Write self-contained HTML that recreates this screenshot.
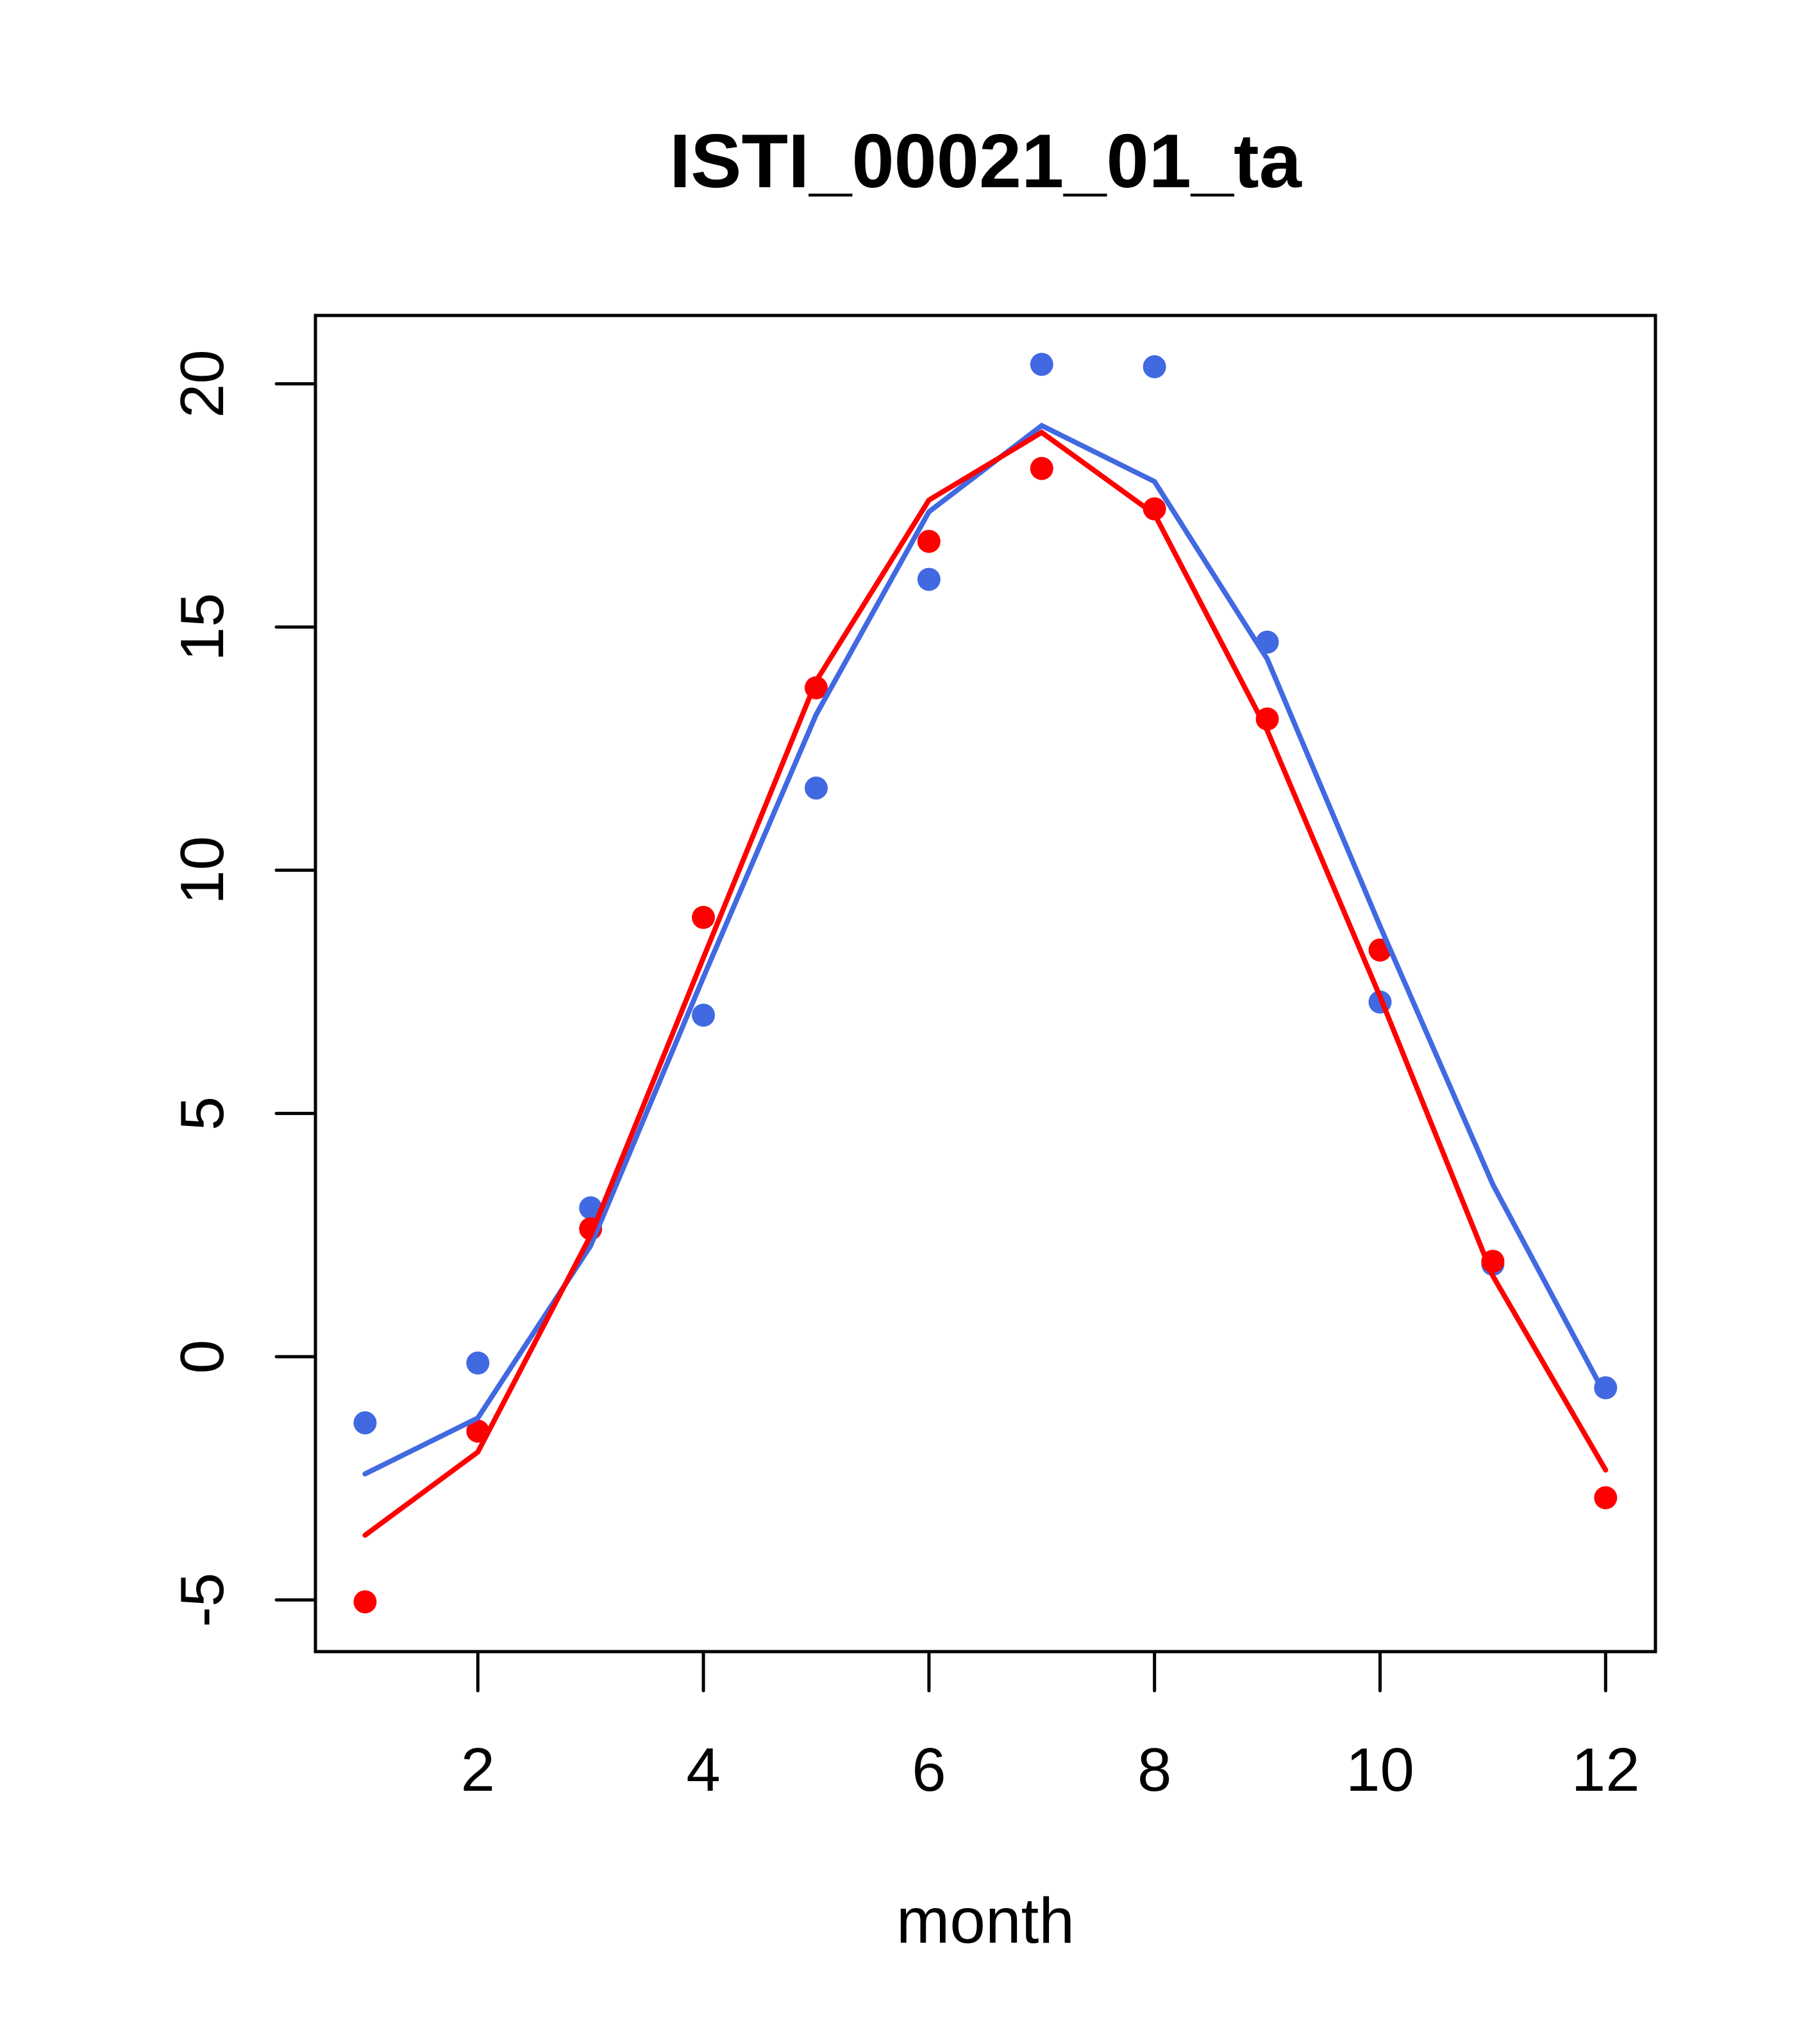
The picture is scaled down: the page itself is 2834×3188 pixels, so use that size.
<!DOCTYPE html>
<html><head><meta charset="utf-8"><style>html,body{margin:0;padding:0;background:#fff}svg{display:block}text{font-family:"Liberation Sans",sans-serif}</style></head>
<body>
<svg id="chart" width="2834" height="3188" viewBox="0 0 2834 3188" xmlns="http://www.w3.org/2000/svg">
<rect width="2834" height="3188" fill="#fff"/>
<text x="1537" y="292" font-size="119" font-weight="bold" text-anchor="middle">ISTI_00021_01_ta</text>
<text x="1537" y="3030" font-size="100" text-anchor="middle">month</text>
<g id="axes"></g>
<g id="marks"></g>
<rect x="492" y="492" width="2090" height="2084" fill="none" stroke="#000" stroke-width="5"/>
</svg>
<script>
const months = [1,2,3,4,5,6,7,8,9,10,11,12];
const redPoints = [-5.04,-1.53,2.63,9.03,13.75,16.76,18.26,17.43,13.11,8.36,1.96,-2.9];
const bluePoints = [-1.36,-0.13,3.06,7.02,11.69,15.98,20.4,20.35,14.69,7.29,1.9,-0.64];
const redLine = [-3.67,-1.96,2.49,8.2,13.89,17.61,19.0,17.32,12.87,7.4,1.66,-2.33];
const blueLine = [-2.41,-1.26,2.28,7.8,13.2,17.37,19.14,17.99,14.34,8.85,3.54,-0.8];
const xTicks = [2,4,6,8,10,12];
const yTicks = [-5,0,5,10,15,20];

const NS="http://www.w3.org/2000/svg";
function X(v){return 569.4+(v-1)*175.9;}
function Y(v){return 2116-v*75.87;}
function mk(tag,parent){const e=document.createElementNS(NS,tag);parent.appendChild(e);return e;}
const axes=document.getElementById('axes'), marks=document.getElementById('marks');
xTicks.forEach(t=>{
  const l=mk('line',axes);
  
  
  l.setAttribute('x1',X(t));l.setAttribute('x2',X(t));l.setAttribute('y1',2576);l.setAttribute('y2',2637);
  l.setAttribute('stroke','#000');l.setAttribute('stroke-width','5');l.setAttribute('stroke-linecap','round');
  const tx=mk('text',axes);
  
  
  tx.setAttribute('x',X(t));tx.setAttribute('y',2793);tx.setAttribute('font-size','96');tx.setAttribute('text-anchor','middle');
  tx.textContent=t;
});
yTicks.forEach(t=>{
  const l=mk('line',axes);
  
  
  l.setAttribute('x1',431);l.setAttribute('x2',492);l.setAttribute('y1',Y(t));l.setAttribute('y2',Y(t));
  l.setAttribute('stroke','#000');l.setAttribute('stroke-width','5');l.setAttribute('stroke-linecap','round');
  const tx=mk('text',axes);
  
  
  tx.setAttribute('x',348);tx.setAttribute('y',Y(t));tx.setAttribute('font-size','96');tx.setAttribute('text-anchor','middle');
  tx.setAttribute('transform','rotate(-90 348 '+Y(t)+')');
  tx.textContent=t;
});
function line(vals,color,name){
  const p=mk('polyline',marks);
  
  
  p.setAttribute('points',vals.map((v,i)=>X(months[i])+','+Y(v)).join(' '));
  p.setAttribute('fill','none');p.setAttribute('stroke',color);p.setAttribute('stroke-width','8');p.setAttribute('stroke-linecap','round');
}
function pts(vals,color,name){
  vals.forEach((v,i)=>{
    const c=mk('circle',marks);
    
    
    c.setAttribute('cx',X(months[i]));c.setAttribute('cy',Y(v));c.setAttribute('r','18');c.setAttribute('fill',color);
  });
}
pts(bluePoints,'#4169E1','blue-point');
pts(redPoints,'#FF0000','red-point');
line(blueLine,'#4169E1','blue-line');
line(redLine,'#FF0000','red-line');
</script>
</body></html>
